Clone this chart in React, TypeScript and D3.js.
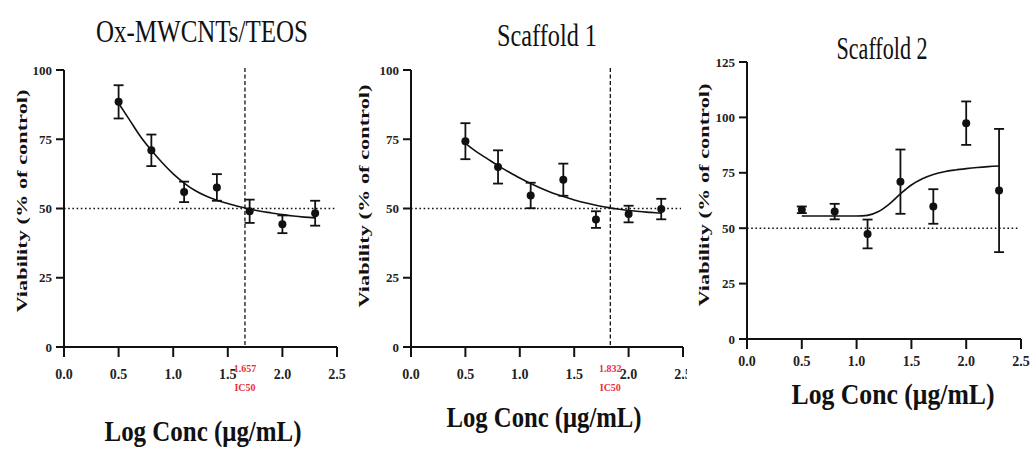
import React from "react";
import * as d3 from "d3";

// log concentrations (µg/mL) used in all three assays
const logConc = [0.5, 0.8, 1.1, 1.4, 1.7, 2.0, 2.3];

// mean viability (% of control) and error
const oxMean = [88.5, 71, 56, 57.6, 49, 44.3, 48.3];
const oxErr = [6, 5.7, 3.7, 4.8, 4.2, 3.2, 4.5];
const s1Mean = [74.3, 65, 54.7, 60.4, 46, 48, 49.8];
const s1Err = [6.5, 6, 4.6, 5.8, 3, 3, 3.7];
const s2Mean = [58.3, 57.5, 47.4, 71, 59.8, 97.4, 67];
const s2Err = [1.5, 3.5, 6.5, 14.5, 7.8, 9.8, 27.8];

// fitted curves
const fitX = [0.5, 0.6, 0.7, 0.8, 0.9, 1.0, 1.1, 1.2, 1.3, 1.4, 1.5, 1.6, 1.7, 1.8, 1.9, 2.0, 2.1, 2.2, 2.3];
const oxFit = [88, 82, 76, 71, 66.5, 62.5, 59.2, 56.5, 54.5, 53, 51.8, 50.7, 49.8, 49, 48.4, 47.8, 47.3, 46.9, 46.6];
const s1Fit = [73.5, 70.5, 68, 65.5, 63.2, 61, 59, 57.2, 55.6, 54.3, 53.1, 52.1, 51.2, 50.4, 49.8, 49.3, 48.9, 48.6, 48.3];
const s2Fit = [55.5, 55.5, 55.5, 55.5, 55.5, 55.5, 55.8, 57.5, 61, 65.5, 69.5, 72.3, 74.2, 75.5, 76.3, 76.9, 77.4, 77.8, 78.1];

const xTicks = [0, 0.5, 1.0, 1.5, 2.0, 2.5];
const yTicks100 = [0, 25, 50, 75, 100];
const yTicks125 = [0, 25, 50, 75, 100, 125];

const titles = ["Ox-MWCNTs/TEOS", "Scaffold 1", "Scaffold 2"];
const ic50Values = [1.657, 1.832, null];

const serif = "'Liberation Serif', 'Times New Roman', serif";

type PanelProps = {
  title: string;
  mean: number[];
  err: number[];
  fit: number[];
  ic50: number | null;
  yMax: number;
  yTicks: number[];
  box: { x0: number; x1: number; yTop: number; yBot: number };
  titlePos: { x: number; y: number; len: number };
  xLabelPos: { x: number; y: number; len: number };
  yLabelPos: { x: number; y: number };
  tickLabelDy: number;
  refEnd: number;
  clip?: string;
};

function Panel(p: PanelProps) {
  const x = d3.scaleLinear().domain([0, 2.5]).range([p.box.x0, p.box.x1]);
  const y = d3.scaleLinear().domain([0, p.yMax]).range([p.box.yBot, p.box.yTop]);

  const line = d3
    .line<number>()
    .x((_, i) => x(fitX[i]))
    .y((d) => y(d))
    .curve(d3.curveMonotoneX);

  return (
    <g clipPath={p.clip}>
      {/* title */}
      <text
        x={p.titlePos.x}
        y={p.titlePos.y}
        textAnchor="middle"
        fontFamily={serif}
        fontSize={31}
        textLength={p.titlePos.len}
        lengthAdjust="spacingAndGlyphs"
        fill="#111"
      >
        {p.title}
      </text>

      {/* 50% reference line */}
      <line
        x1={x(0)}
        x2={p.refEnd}
        y1={y(50)}
        y2={y(50)}
        stroke="#111"
        strokeWidth={1.6}
        strokeDasharray="1.6,2.6"
      />

      {/* IC50 line */}
      {p.ic50 !== null && (
        <g>
          <line
            x1={x(p.ic50)}
            x2={x(p.ic50)}
            y1={p.box.yTop - 2}
            y2={p.box.yBot}
            stroke="#111"
            strokeWidth={1.3}
            strokeDasharray="4,2.5"
          />
          <text
            x={x(p.ic50)}
            y={p.box.yBot + 25}
            textAnchor="middle"
            fontFamily={serif}
            fontWeight="bold"
            fontSize={10}
            fill="#e8303a"
          >
            {p.ic50.toFixed(3)}
          </text>
          <text
            x={x(p.ic50)}
            y={p.box.yBot + 44}
            textAnchor="middle"
            fontFamily={serif}
            fontWeight="bold"
            fontSize={10}
            fill="#e8303a"
          >
            IC50
          </text>
        </g>
      )}

      {/* axes */}
      <line x1={x(0)} x2={x(0)} y1={y(p.yMax)} y2={y(0)} stroke="#111" strokeWidth={2} />
      <line x1={x(0)} x2={x(2.5)} y1={y(0)} y2={y(0)} stroke="#111" strokeWidth={2} />
      {p.yTicks.map((t) => (
        <g key={"y" + t}>
          <line x1={x(0) - 8} x2={x(0)} y1={y(t)} y2={y(t)} stroke="#111" strokeWidth={2} />
          <text
            x={x(0) - 12}
            y={y(t)}
            dy="0.35em"
            textAnchor="end"
            fontFamily={serif}
            fontWeight="bold"
            fontSize={13}
            fill="#222"
          >
            {t}
          </text>
        </g>
      ))}
      {xTicks.map((t) => (
        <g key={"x" + t}>
          <line x1={x(t)} x2={x(t)} y1={y(0)} y2={y(0) + 10} stroke="#111" strokeWidth={2} />
          <text
            x={x(t)}
            y={y(0) + p.tickLabelDy}
            textAnchor="middle"
            fontFamily={serif}
            fontWeight="bold"
            fontSize={14}
            fill="#222"
          >
            {t.toFixed(1)}
          </text>
        </g>
      ))}

      {/* axis titles */}
      <text
        transform={`translate(${p.yLabelPos.x},${p.yLabelPos.y}) rotate(-90)`}
        textAnchor="middle"
        dominantBaseline="central"
        fontFamily={serif}
        fontWeight="bold"
        fontSize={15}
        textLength={223}
        lengthAdjust="spacingAndGlyphs"
        fill="#111"
      >
        Viability (% of control)
      </text>
      <text
        x={p.xLabelPos.x}
        y={p.xLabelPos.y}
        textAnchor="middle"
        fontFamily={serif}
        fontWeight="bold"
        fontSize={30}
        textLength={p.xLabelPos.len}
        lengthAdjust="spacingAndGlyphs"
        fill="#111"
      >
        Log Conc (μg/mL)
      </text>

      {/* fitted curve */}
      <path d={line(p.fit) || ""} fill="none" stroke="#111" strokeWidth={1.6} />

      {/* error bars + points */}
      {logConc.map((c, i) => {
        const cx = x(c);
        const hi = y(p.mean[i] + p.err[i]);
        const lo = y(p.mean[i] - p.err[i]);
        return (
          <g key={"pt" + i} stroke="#111" strokeWidth={1.8}>
            <line x1={cx} x2={cx} y1={hi} y2={lo} />
            <line x1={cx - 5} x2={cx + 5} y1={hi} y2={hi} />
            <line x1={cx - 5} x2={cx + 5} y1={lo} y2={lo} />
            <circle cx={cx} cy={y(p.mean[i])} r={4} fill="#111" stroke="none" />
          </g>
        );
      })}
    </g>
  );
}

export default function App() {
  return (
    <svg
      width={1030}
      height={450}
      style={{ position: "absolute", left: 0, top: 0, background: "#fff" }}
    >
      <defs>
        <clipPath id="clip2">
          <rect x={345} y={0} width={342} height={450} />
        </clipPath>
      </defs>
      <Panel
        title={titles[0]}
        mean={oxMean}
        err={oxErr}
        fit={oxFit}
        ic50={ic50Values[0]}
        yMax={100}
        yTicks={yTicks100}
        box={{ x0: 64, x1: 337, yTop: 70, yBot: 347 }}
        titlePos={{ x: 202, y: 42, len: 212 }}
        xLabelPos={{ x: 203, y: 441, len: 197 }}
        yLabelPos={{ x: 22, y: 201 }}
        tickLabelDy={32}
        refEnd={336}
      />
      <Panel
        title={titles[1]}
        mean={s1Mean}
        err={s1Err}
        fit={s1Fit}
        ic50={ic50Values[1]}
        yMax={100}
        yTicks={yTicks100}
        box={{ x0: 411, x1: 683, yTop: 70, yBot: 347 }}
        titlePos={{ x: 547, y: 46, len: 100 }}
        xLabelPos={{ x: 544, y: 427, len: 195 }}
        yLabelPos={{ x: 364, y: 196 }}
        tickLabelDy={32}
        refEnd={681}
        clip="url(#clip2)"
      />
      <Panel
        title={titles[2]}
        mean={s2Mean}
        err={s2Err}
        fit={s2Fit}
        ic50={ic50Values[2]}
        yMax={125}
        yTicks={yTicks125}
        box={{ x0: 747, x1: 1021, yTop: 62, yBot: 339 }}
        titlePos={{ x: 882, y: 59, len: 91 }}
        xLabelPos={{ x: 893, y: 404, len: 203 }}
        yLabelPos={{ x: 704, y: 195 }}
        tickLabelDy={27}
        refEnd={1020}
      />
    </svg>
  );
}
